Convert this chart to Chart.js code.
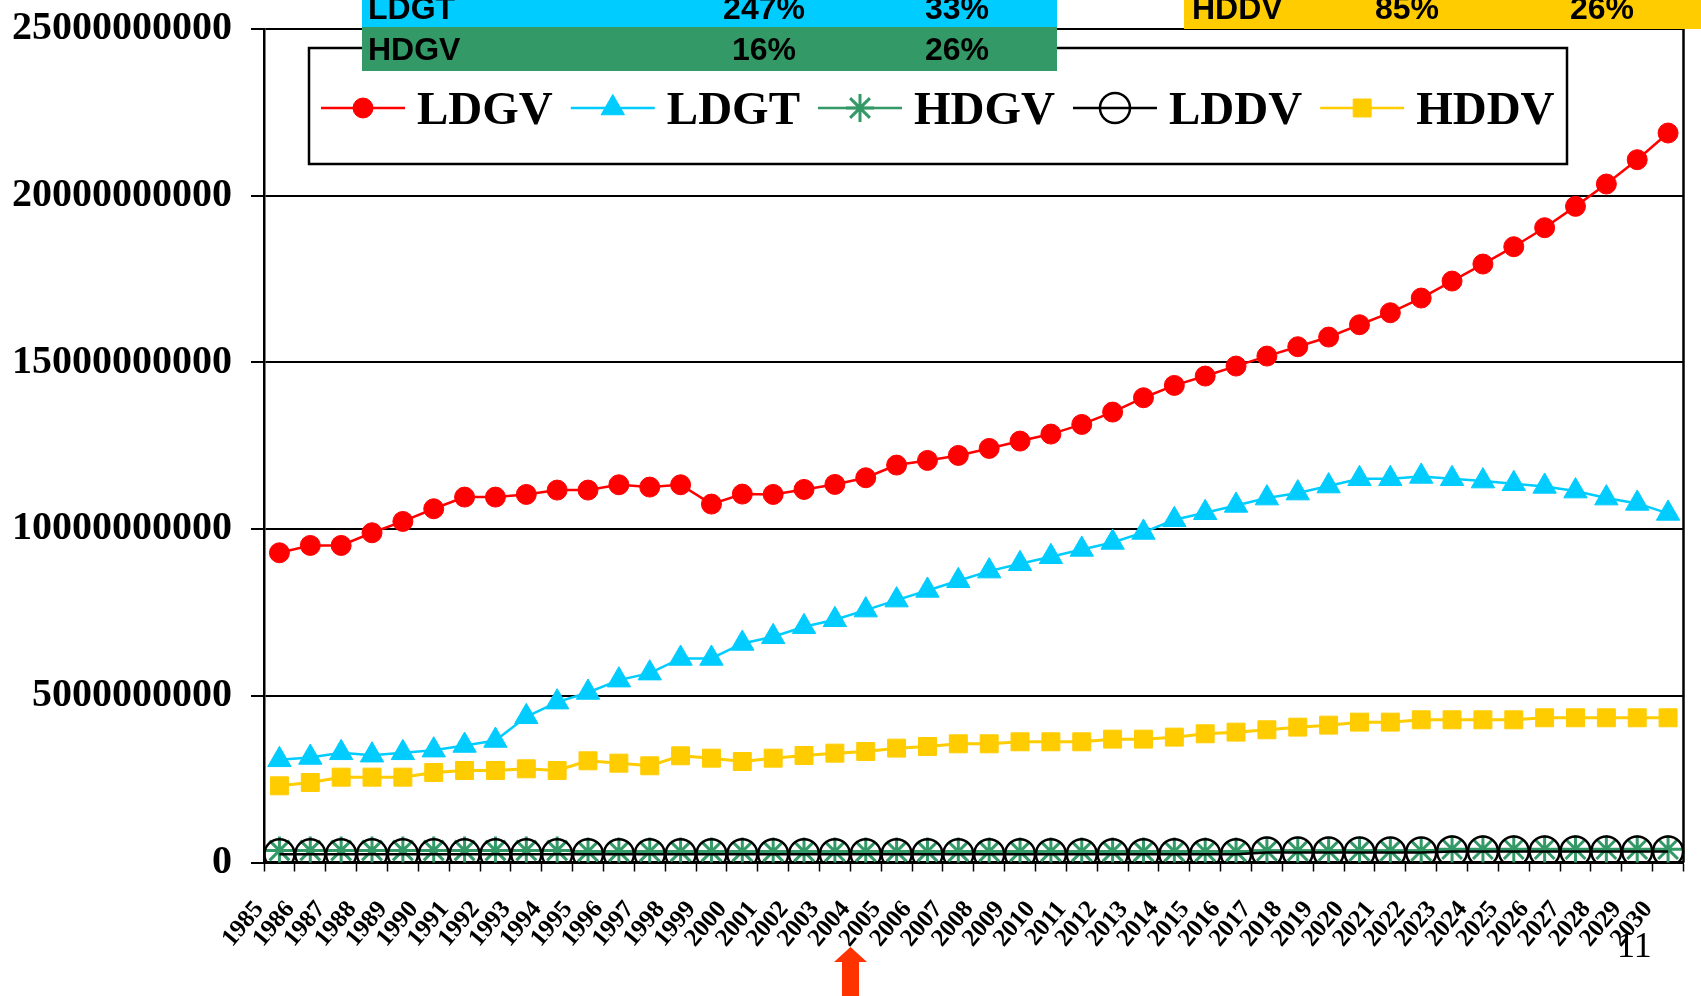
<!DOCTYPE html>
<html>
<head>
<meta charset="utf-8">
<script src="https://cdn.jsdelivr.net/npm/chart.js@4.4.1/dist/chart.umd.min.js"></script>
<style>
  html, body { margin: 0; padding: 0; background: #ffffff; overflow: hidden; }
  canvas { display: block; }
</style>
</head>
<body>
<canvas id="vmt" width="1701" height="996"></canvas>
<script>
// Years on the category axis
const years = ['1985','1986','1987','1988','1989','1990','1991','1992','1993','1994',
  '1995','1996','1997','1998','1999','2000','2001','2002','2003','2004',
  '2005','2006','2007','2008','2009','2010','2011','2012','2013','2014',
  '2015','2016','2017','2018','2019','2020','2021','2022','2023','2024',
  '2025','2026','2027','2028','2029','2030'];

// Vehicle miles travelled by vehicle class
const ldgv = [9.29e9, 9.51e9, 9.51e9, 9.89e9, 10.23e9, 10.61e9, 10.96e9, 10.96e9, 11.04e9, 11.17e9,
  11.17e9, 11.33e9, 11.26e9, 11.33e9, 10.75e9, 11.05e9, 11.04e9, 11.19e9, 11.34e9, 11.54e9,
  11.92e9, 12.06e9, 12.21e9, 12.42e9, 12.64e9, 12.85e9, 13.14e9, 13.51e9, 13.94e9, 14.31e9,
  14.59e9, 14.89e9, 15.19e9, 15.47e9, 15.76e9, 16.13e9, 16.49e9, 16.93e9, 17.44e9, 17.95e9,
  18.47e9, 19.04e9, 19.68e9, 20.35e9, 21.08e9, 21.88e9];
const ldgt = [3.08e9, 3.15e9, 3.29e9, 3.22e9, 3.29e9, 3.37e9, 3.51e9, 3.66e9, 4.37e9, 4.81e9,
  5.10e9, 5.47e9, 5.68e9, 6.12e9, 6.12e9, 6.57e9, 6.77e9, 7.07e9, 7.28e9, 7.57e9,
  7.87e9, 8.16e9, 8.45e9, 8.74e9, 8.96e9, 9.17e9, 9.39e9, 9.60e9, 9.90e9, 10.28e9,
  10.49e9, 10.71e9, 10.93e9, 11.08e9, 11.29e9, 11.51e9, 11.51e9, 11.58e9, 11.51e9, 11.44e9,
  11.36e9, 11.28e9, 11.14e9, 10.93e9, 10.77e9, 10.47e9];
const hdgv = [0.36e9, 0.36e9, 0.36e9, 0.36e9, 0.36e9, 0.36e9, 0.36e9, 0.36e9, 0.36e9, 0.36e9,
  0.33e9, 0.33e9, 0.33e9, 0.33e9, 0.33e9, 0.33e9, 0.33e9, 0.33e9, 0.33e9, 0.33e9,
  0.33e9, 0.33e9, 0.33e9, 0.33e9, 0.33e9, 0.33e9, 0.33e9, 0.33e9, 0.33e9, 0.33e9,
  0.33e9, 0.33e9, 0.35e9, 0.35e9, 0.35e9, 0.35e9, 0.35e9, 0.35e9, 0.40e9, 0.40e9,
  0.40e9, 0.40e9, 0.40e9, 0.40e9, 0.40e9, 0.40e9];
const lddv = [0.25e9, 0.25e9, 0.25e9, 0.25e9, 0.25e9, 0.25e9, 0.25e9, 0.25e9, 0.25e9, 0.25e9,
  0.25e9, 0.25e9, 0.25e9, 0.25e9, 0.25e9, 0.25e9, 0.25e9, 0.25e9, 0.25e9, 0.25e9,
  0.25e9, 0.25e9, 0.25e9, 0.25e9, 0.25e9, 0.25e9, 0.25e9, 0.25e9, 0.25e9, 0.25e9,
  0.25e9, 0.25e9, 0.30e9, 0.30e9, 0.30e9, 0.30e9, 0.30e9, 0.30e9, 0.33e9, 0.33e9,
  0.33e9, 0.33e9, 0.33e9, 0.33e9, 0.33e9, 0.33e9];
const hddv = [2.30e9, 2.40e9, 2.56e9, 2.56e9, 2.56e9, 2.70e9, 2.76e9, 2.76e9, 2.81e9, 2.76e9,
  3.05e9, 2.98e9, 2.90e9, 3.20e9, 3.13e9, 3.03e9, 3.13e9, 3.21e9, 3.28e9, 3.33e9,
  3.43e9, 3.48e9, 3.56e9, 3.56e9, 3.62e9, 3.62e9, 3.62e9, 3.70e9, 3.70e9, 3.76e9,
  3.86e9, 3.91e9, 3.98e9, 4.06e9, 4.12e9, 4.21e9, 4.21e9, 4.28e9, 4.28e9, 4.28e9,
  4.28e9, 4.34e9, 4.34e9, 4.34e9, 4.34e9, 4.34e9];

// Y axis range and step
const yMin = 0;
const yMax = 25000000000;
const yStep = 5000000000;

// Growth table rows: class, first and second percentage
const tableClasses = ['LDGT', 'HDGV', 'HDDV'];
const tableFirst = ['247%', '16%', '85%'];
const tableSecond = ['33%', '26%', '26%'];
const tableColors = ['#00CCFF', '#339966', '#FFCC00'];

const pageNumber = '11';

const SERIF = '"Liberation Serif", "Times New Roman", serif';
const SANS = '"Liberation Sans", Arial, sans-serif';

function series(label, data, color, style, radius, opts) {
  return Object.assign({
    label: label,
    data: data,
    borderColor: color,
    backgroundColor: color,
    pointBackgroundColor: color,
    pointBorderColor: color,
    pointStyle: style,
    pointRadius: radius,
    pointHoverRadius: radius,
    pointBorderWidth: 1,
    borderWidth: 2.5,
    tension: 0,
    fill: false
  }, opts || {});
}

const datasets = [
  series('LDGV', ldgv, '#FF0000', 'circle', 10, { order: 5 }),
  series('LDGT', ldgt, '#00CCFF', 'triangle', 13.5, { order: 4 }),
  series('HDGV', hdgv, '#339966', 'star', 14, { order: 3, pointBorderWidth: 3 }),
  series('LDDV', lddv, '#000000', 'circle', 15, { order: 2, pointBackgroundColor: 'rgba(0,0,0,0)', pointBorderWidth: 2.5 }),
  series('HDDV', hddv, '#FFCC00', 'rect', 12.7, { order: 1, borderWidth: 3 })
];

// Right edge of the plot frame
const frameRight = {
  id: 'frameRight',
  beforeDatasetsDraw(chart) {
    const { ctx, chartArea } = chart;
    ctx.save();
    ctx.strokeStyle = '#000000';
    ctx.lineWidth = 2.5;
    ctx.beginPath();
    ctx.moveTo(chartArea.right, chartArea.top);
    ctx.lineTo(chartArea.right, chartArea.bottom);
    ctx.stroke();
    ctx.restore();
  }
};

// Boxed legend with line + marker samples
const boxedLegend = {
  id: 'boxedLegend',
  afterDraw(chart) {
    const ctx = chart.ctx;
    ctx.save();
    ctx.fillStyle = '#ffffff';
    ctx.fillRect(309, 48, 1258, 116);
    ctx.strokeStyle = '#000000';
    ctx.lineWidth = 2.5;
    ctx.strokeRect(309, 48, 1258, 116);

    ctx.font = 'bold 47px ' + SERIF;
    ctx.textBaseline = 'alphabetic';
    ctx.textAlign = 'left';
    let x = 321;
    const y = 108;
    chart.data.datasets.forEach((ds) => {
      ctx.strokeStyle = ds.borderColor;
      ctx.lineWidth = 2.5;
      ctx.beginPath();
      ctx.moveTo(x, y);
      ctx.lineTo(x + 84, y);
      ctx.stroke();
      ctx.fillStyle = ds.pointBackgroundColor;
      ctx.strokeStyle = ds.pointBorderColor;
      ctx.lineWidth = ds.pointBorderWidth;
      Chart.helpers.drawPoint(ctx, {
        pointStyle: ds.pointStyle,
        radius: ds.pointRadius,
        rotation: 0,
        borderWidth: ds.pointBorderWidth
      }, x + 42, y);
      ctx.fillStyle = '#000000';
      ctx.fillText(ds.label, x + 96, 124);
      x += 96 + ctx.measureText(ds.label).width + 18;
    });
    ctx.restore();
  }
};

// Growth table strips, page number and arrow marker
const annotations = {
  id: 'annotations',
  afterDraw(chart) {
    const ctx = chart.ctx;
    ctx.save();
    const rows = [
      { x: 362, y: -17, w: 695, h: 44, base: 19, labelX: 368, c1: 764, c2: 957 },
      { x: 362, y: 27, w: 695, h: 44, base: 60, labelX: 368, c1: 764, c2: 957 },
      { x: 1184, y: -15, w: 517, h: 44, base: 19, labelX: 1192, c1: 1407, c2: 1602 }
    ];
    ctx.font = 'bold 32px ' + SANS;
    ctx.textBaseline = 'alphabetic';
    rows.forEach((r, i) => {
      ctx.fillStyle = tableColors[i];
      ctx.fillRect(r.x, r.y, r.w, r.h);
      ctx.fillStyle = '#000000';
      ctx.textAlign = 'left';
      ctx.fillText(tableClasses[i], r.labelX, r.base);
      ctx.textAlign = 'center';
      ctx.fillText(tableFirst[i], r.c1, r.base);
      ctx.fillText(tableSecond[i], r.c2, r.base);
    });

    ctx.font = '36px ' + SERIF;
    ctx.textAlign = 'left';
    ctx.fillStyle = '#000000';
    ctx.fillText(pageNumber, 1617, 957);

    ctx.fillStyle = '#FF3300';
    ctx.beginPath();
    ctx.moveTo(834, 962);
    ctx.lineTo(850.5, 947);
    ctx.lineTo(867, 962);
    ctx.lineTo(859, 962);
    ctx.lineTo(859, 996);
    ctx.lineTo(842, 996);
    ctx.lineTo(842, 962);
    ctx.closePath();
    ctx.fill();
    ctx.restore();
  }
};

new Chart(document.getElementById('vmt'), {
  type: 'line',
  data: { labels: years, datasets: datasets },
  plugins: [frameRight, boxedLegend, annotations],
  options: {
    responsive: false,
    animation: false,
    devicePixelRatio: 1,
    layout: { padding: { left: 0, right: 12, top: 29, bottom: 0 } },
    plugins: {
      legend: { display: false },
      tooltip: { enabled: false }
    },
    scales: {
      x: {
        type: 'category',
        offset: true,
        grid: {
          offset: true,
          drawOnChartArea: false,
          drawTicks: true,
          tickLength: 9,
          tickColor: '#000000',
          tickWidth: 1.5
        },
        border: { display: true, color: '#000000', width: 3 },
        ticks: {
          autoSkip: false,
          maxRotation: 50,
          minRotation: 50,
          padding: 24,
          labelOffset: -20,
          color: '#000000',
          font: { family: SERIF, size: 25, weight: 'bold' }
        },
        afterFit(scale) {
          scale.height = 133.5;
          scale.paddingLeft = 0;
          scale.paddingRight = 0;
        }
      },
      y: {
        min: yMin,
        max: yMax,
        grid: {
          color: '#000000',
          lineWidth: 2,
          tickLength: 13,
          tickColor: '#000000',
          tickWidth: 2
        },
        border: { display: true, color: '#000000', width: 2.5 },
        ticks: {
          stepSize: yStep,
          padding: 19,
          color: '#000000',
          font: { family: SERIF, size: 40, weight: 'bold' },
          callback: (v) => String(v)
        },
        afterFit(scale) {
          scale.width = 264;
          scale.paddingTop = 0;
          scale.paddingBottom = 0;
        }
      }
    }
  }
});
</script>
</body>
</html>
